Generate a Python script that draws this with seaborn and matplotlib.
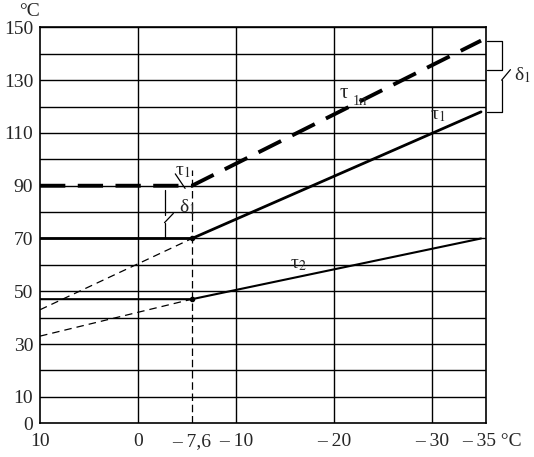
import matplotlib
matplotlib.use("Agg")
import matplotlib.pyplot as plt
import matplotlib.transforms as mtransforms
import seaborn as sns

# outdoor temperature axis positions (schematic: the break is drawn left of -10)
x_break = -5.5
x_left = 10
x_right = -35
x_tick_pos = [10, 0, x_break, -10, -20, -30, -35]
x_tick_labels = ["10", "0", "\u2013 7,6", "\u2013 10", "\u2013 20", "\u2013 30", "\u2013 35 \u00b0C"]
y_tick_pos = [0, 10, 30, 50, 70, 90, 110, 130, 150]

# curves: flat part up to the break, then straight to -35
tau1n_x = [x_left, x_break, x_right]
tau1n_y = [90, 90, 145]
tau1_x = [x_left, x_break, x_right]
tau1_y = [70, 70, 118]
tau2_x = [x_left, x_break, x_right]
tau2_y = [47, 47, 70]
# thin dashed extensions of the sloped parts
ext1_x = [x_left, x_break]
ext1_y = [43, 70]
ext2_x = [x_left, x_break]
ext2_y = [33, 47]

sns.set_style("white")
plt.rcParams["font.family"] = ["Liberation Serif", "DejaVu Serif"]
plt.rcParams["mathtext.fontset"] = "stix"

fig = plt.figure(figsize=(5.34, 4.57), dpi=100)
ax = fig.add_axes([0.075, 0.074, 0.835, 0.866])

# grid
for yv in range(10, 151, 10):
    ax.axhline(yv, color="black", lw=1.0, zorder=1)
for xv in [0, -10, -20, -30]:
    ax.axvline(xv, color="black", lw=1.0, zorder=1)

sns.lineplot(x=tau1n_x, y=tau1n_y, ax=ax, color="black", lw=2.8,
             sort=False).lines[-1].set_dashes((6.5, 3.2))
sns.lineplot(x=tau1_x, y=tau1_y, ax=ax, color="black", lw=2.0, sort=False)
sns.lineplot(x=tau2_x, y=tau2_y, ax=ax, color="black", lw=1.5, sort=False)
for ex, ey in [(ext1_x, ext1_y), (ext2_x, ext2_y)]:
    sns.lineplot(x=ex, y=ey, ax=ax, color="black", lw=0.9, sort=False).lines[-1].set_dashes((6, 4))
ax.plot([x_break, x_break], [0, 96], color="black", lw=0.9, dashes=(6, 3), zorder=2)
ax.plot([x_break], [47], "o", color="black", ms=3)
ax.plot([x_break], [70], "o", color="black", ms=3)

ax.set_xlim(10, -35.5)
ax.set_ylim(0, 150)
ax.set_xticks(x_tick_pos)
ax.set_xticklabels(x_tick_labels, fontsize=14)
ax.set_yticks(y_tick_pos)
ax.set_yticklabels([str(v) for v in y_tick_pos], fontsize=14)
ax.tick_params(length=0, pad=5)
ax.tick_params(axis="x", pad=7)
# nudge the last label to the right like in the original
last = ax.get_xticklabels()[-1]
last.set_transform(last.get_transform() + mtransforms.ScaledTranslation(0.11, 0, fig.dpi_scale_trans))
for s in ax.spines.values():
    s.set_color("black")
    s.set_linewidth(1.2)

# labels
ax.text(-21.0, 125, "\u03c4", fontsize=15, ha="center", va="center")
ax.text(-22.6, 122, "1\u043f", fontsize=10, ha="center", va="center")
ax.text(-30.6, 116.5, "\u03c4$_1$", fontsize=14, ha="center", va="center")
ax.text(-16.4, 60, "\u03c4$_2$", fontsize=14, ha="center", va="center")
ax.text(-4.6, 95.5, "\u03c4$_1$", fontsize=14, ha="center", va="center")
ax.text(-5.0, 82, "\u03b4$_1$", fontsize=14, ha="center", va="center")
ax.text(-39.2, 132, "\u03b4$_1$", fontsize=14, ha="center", va="center", clip_on=False)
fig.text(0.036, 0.975, "\u00b0C", fontsize=14, ha="left", va="center")

# bracket between tau1n and tau1 at the break
bx = -2.7
ax.plot([bx, bx], [88.5, 79], color="black", lw=0.9)
ax.plot([bx, bx], [76, 70], color="black", lw=0.9)
ax.plot([bx, bx - 0.9], [76, 79.5], color="black", lw=0.9)
ax.plot([-3.8, -4.8], [94.5, 89], color="black", lw=0.9)
# bracket on the right
rx = -37.1
ax.plot([-35.6, rx, rx, -35.6], [145, 145, 134, 134], color="black", lw=0.9, clip_on=False)
ax.plot([rx, rx, -35.6], [130, 118, 118], color="black", lw=0.9, clip_on=False)
ax.plot([rx, rx - 0.9], [130, 134], color="black", lw=0.9, clip_on=False)

plt.savefig("out.png", dpi=100)
